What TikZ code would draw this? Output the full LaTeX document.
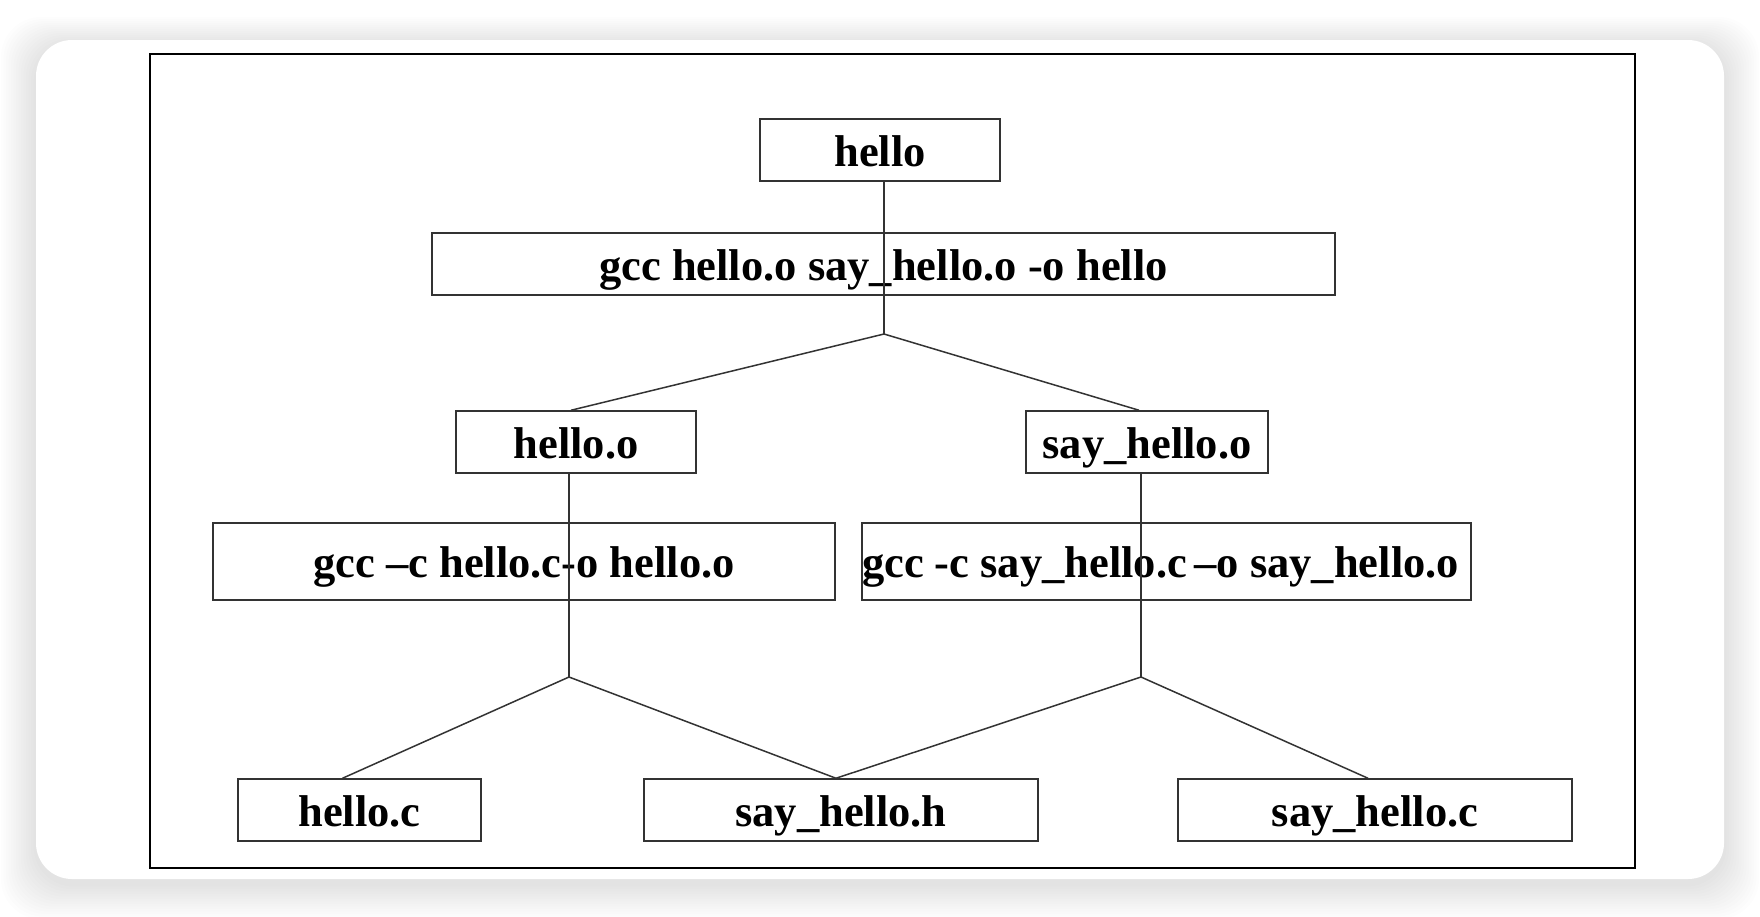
\documentclass[tikz,border=0pt]{standalone}
\usepackage{fontspec}
\setmainfont{Liberation Serif}
\usetikzlibrary{calc}
\begin{document}
\begin{tikzpicture}[x=1pt,y=-1pt,
  box/.style={draw=black!80, line width=1.5pt, fill=white, minimum height=62pt, inner sep=0pt,
    text height=40pt, text depth=8pt,
    font=\fontsize{44.5}{50}\selectfont\bfseries},
  link/.style={draw=black!80, line width=1.5pt}]
\useasboundingbox (0,0) rectangle (1760,916);
\fill[white] (0,0) rectangle (1760,916);
% card shadow
\foreach \i in {1,...,14}{
  \fill[black, opacity=0.009, rounded corners=40pt]
    ({36-\i*2.5},{40-\i*2.0+5}) rectangle ({1724+\i*2.5},{879+\i*2.5+5});
}
\fill[white, rounded corners=36pt] (36,40) rectangle (1724,879);
% frame
\draw[black, line width=2pt] (150,54) rectangle (1635,868);

% boxes
\node[box, minimum width=240pt] (hello) at (880,150) {hello};
\node[box, minimum width=903pt] (gcctop) at (883.5,264) {gcc hello.o say\_hello.o -o hello};
\node[box, minimum width=240pt] (ho) at (576,442) {hello.o};
\node[box, minimum width=242pt] (sho) at (1147,442) {say\_hello.o};
\node[box, minimum width=622pt, minimum height=77pt] (gccl) at (524,561.5) {gcc –c hello.c-o hello.o};
\node[box, minimum width=609pt, minimum height=77pt] (gccr) at (1166.5,561.5) {gcc -c say\_hello.c\,–o say\_hello.o\hspace*{12pt}};
\node[box, minimum width=243pt] (hc) at (359.5,810) {hello.c};
\node[box, minimum width=394pt] (shh) at (841,810) {say\_hello.h};
\node[box, minimum width=394pt] (shc) at (1375,810) {say\_hello.c};

% junctions
\coordinate (j0) at (884,334);
\coordinate (j1) at (569,677);
\coordinate (j2) at (1141,677);

% connectors
\draw[link] (j0 |- hello.south) -- (j0);
\draw[link] (j0) -- ($(ho.north)+(-5,0)$);
\draw[link] (j0) -- ($(sho.north)+(-8,0)$);
\draw[link] (j1 |- ho.south) -- (j1);
\draw[link] (j2 |- sho.south) -- (j2);
\draw[link] (j1) -- ($(hc.north)+(-17,0)$);
\draw[link] (j1) -- ($(shh.north)+(-5,0)$);
\draw[link] (j2) -- ($(shh.north)+(-5,0)$);
\draw[link] (j2) -- ($(shc.north)+(-7,0)$);
\end{tikzpicture}
\end{document}
